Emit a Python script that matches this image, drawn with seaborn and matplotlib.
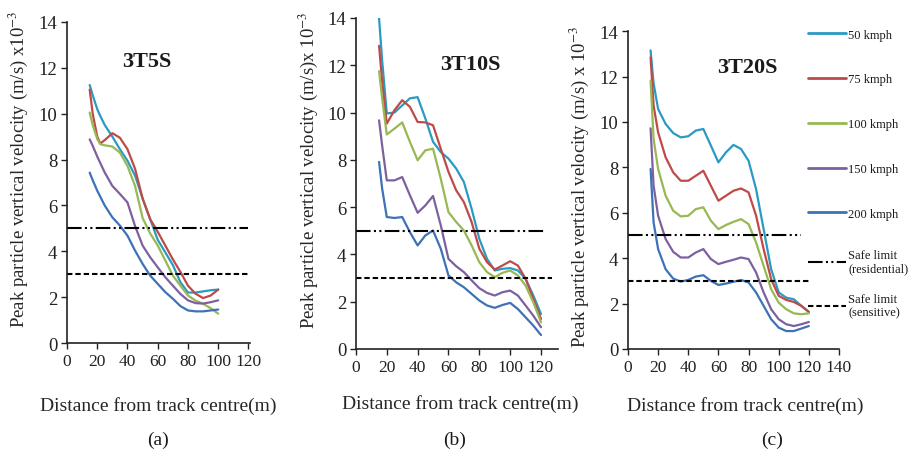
import matplotlib
matplotlib.use('Agg')
import matplotlib.pyplot as plt
from matplotlib.lines import Line2D
import seaborn as sns
import pandas as pd

# speeds and colours
speeds = ['50 kmph', '75 kmph', '100 kmph', '150 kmph', '200 kmph']
colors = ['#2b9ac2', '#be4b48', '#97b853', '#7d60a0', '#3e72b7']

# panel (a) 3T5S
dist_a = [15, 17, 20, 22, 25, 30, 35, 40, 45, 50, 55, 60, 65, 70, 75, 80, 85, 90, 95, 100]
a_50 = [11.25, 10.8, 10.2, 9.9, 9.5, 9.0, 8.45, 7.95, 7.3, 6.3, 5.4, 4.5, 3.95, 3.4, 2.65, 2.2, 2.2, 2.25, 2.3, 2.33]
a_75 = [11.05, 10.0, 9.0, 8.7, 8.85, 9.15, 8.95, 8.45, 7.6, 6.3, 5.4, 4.85, 4.25, 3.65, 3.1, 2.5, 2.15, 1.96, 2.07, 2.33]
a_100 = [10.05, 9.5, 8.9, 8.67, 8.62, 8.57, 8.3, 7.72, 6.85, 5.45, 4.78, 4.25, 3.6, 2.94, 2.5, 2.07, 1.85, 1.71, 1.52, 1.28]
a_150 = [8.88, 8.6, 8.13, 7.85, 7.43, 6.85, 6.5, 6.13, 5.1, 4.25, 3.74, 3.3, 2.87, 2.5, 2.14, 1.86, 1.74, 1.72, 1.78, 1.86]
a_200 = [7.43, 7.1, 6.64, 6.38, 5.99, 5.48, 5.12, 4.68, 4.03, 3.45, 2.94, 2.58, 2.22, 1.93, 1.61, 1.42, 1.38, 1.38, 1.42, 1.46]

# panel (b) 3T10S
dist_b = [15, 17, 20, 25, 30, 35, 40, 45, 50, 55, 60, 65, 70, 75, 80, 85, 90, 95, 100, 105, 110, 115, 120]
b_50 = [13.98, 12.2, 9.96, 10.0, 10.3, 10.6, 10.65, 9.75, 8.76, 8.33, 8.05, 7.63, 7.06, 5.93, 4.66, 3.81, 3.32, 3.39, 3.42, 3.32, 2.97, 2.26, 1.48]
b_75 = [12.82, 11.3, 9.53, 10.1, 10.52, 10.24, 9.6, 9.58, 9.46, 8.47, 7.49, 6.71, 6.21, 5.37, 4.24, 3.67, 3.36, 3.53, 3.71, 3.53, 2.97, 2.12, 1.27]
b_100 = [11.75, 10.6, 9.07, 9.32, 9.58, 8.76, 7.98, 8.4, 8.47, 7.2, 5.79, 5.37, 5.01, 4.38, 3.67, 3.25, 3.04, 3.22, 3.32, 3.11, 2.68, 1.98, 1.13]
b_150 = [9.67, 8.6, 7.13, 7.13, 7.27, 6.5, 5.76, 6.07, 6.47, 5.23, 3.81, 3.5, 3.25, 2.9, 2.57, 2.37, 2.26, 2.4, 2.47, 2.26, 1.84, 1.41, 0.92]
b_200 = [7.91, 6.78, 5.58, 5.54, 5.58, 4.94, 4.38, 4.8, 5.01, 4.24, 3.11, 2.82, 2.61, 2.33, 2.05, 1.84, 1.74, 1.86, 1.95, 1.69, 1.34, 0.99, 0.59]

# panel (c) 3T20S
dist_c = [15, 17, 20, 25, 30, 35, 40, 45, 50, 55, 60, 65, 70, 75, 80, 85, 90, 95, 100, 105, 110, 115, 120]
c_50 = [13.15, 11.7, 10.57, 9.91, 9.51, 9.32, 9.37, 9.62, 9.69, 8.96, 8.22, 8.66, 8.99, 8.81, 8.29, 7.04, 5.28, 3.51, 2.49, 2.26, 2.19, 1.9, 1.63]
c_75 = [12.85, 10.72, 9.54, 8.44, 7.78, 7.41, 7.41, 7.63, 7.85, 7.19, 6.53, 6.75, 6.97, 7.07, 6.9, 5.87, 4.4, 3.07, 2.34, 2.16, 2.07, 1.9, 1.63]
c_100 = [11.82, 9.25, 7.93, 6.75, 6.09, 5.84, 5.87, 6.16, 6.24, 5.65, 5.28, 5.46, 5.6, 5.72, 5.5, 4.69, 3.66, 2.63, 2.04, 1.75, 1.57, 1.53, 1.57]
c_150 = [9.72, 7.19, 5.87, 4.84, 4.28, 4.03, 4.03, 4.25, 4.4, 3.96, 3.74, 3.84, 3.93, 4.03, 3.96, 3.37, 2.49, 1.75, 1.31, 1.09, 1.01, 1.09, 1.19]
c_200 = [7.93, 5.57, 4.4, 3.51, 3.1, 2.97, 3.04, 3.19, 3.25, 3.0, 2.82, 2.88, 2.96, 3.04, 2.93, 2.49, 1.9, 1.31, 0.94, 0.79, 0.79, 0.9, 1.01]

# safe limits (x10^-3 m/s) and how far the lines run in each panel
limit_res = 5
limit_sens = 3
res_end = [120, 122, 115]
sens_end = [120, 127, 120]

titles = ['3T5S', '3T10S', '3T20S']
letters = ['(a)', '(b)', '(c)']
ylabels = ['Peak particle vertical velocity (m/s) x10$^{-3}$',
           'Peak particle vertical velocity (m/s)x 10$^{-3}$',
           'Peak particle vertical velocity (m/s) x 10$^{-3}$']

sns.set_style('white')
plt.rcParams['font.family'] = ['Liberation Serif', 'DejaVu Serif']
plt.rcParams['mathtext.fontset'] = 'stix'
plt.rcParams['text.color'] = '#1a1a1a'

dash_dot = (0, (7, 1.6, 1, 1.6, 1, 1.6))
dashed = (0, (2.6, 1.4))


def make_frame(dist, series):
    parts = []
    for name, vals in zip(speeds, series):
        parts.append(pd.DataFrame({'dist': dist, 'ppv': vals, 'speed': name}))
    return pd.concat(parts, ignore_index=True)


fig = plt.figure(figsize=(9.08, 4.56), dpi=100)
positions = [[0.0738, 0.2456, 0.2015, 0.704],
             [0.392, 0.2325, 0.2225, 0.726],
             [0.6916, 0.2325, 0.2324, 0.697]]
panels = [(dist_a, [a_50, a_75, a_100, a_150, a_200], 121, range(0, 121, 20)),
          (dist_b, [b_50, b_75, b_100, b_150, b_200], 131, range(0, 121, 20)),
          (dist_c, [c_50, c_75, c_100, c_150, c_200], 140, range(0, 141, 20))]
title_pos = [(0.437, 0.878), (0.564, 0.862), (0.564, 0.887)]
ylab_pos = [(-0.2, 0.545), (-0.178, 0.544), (-0.176, 0.513)]
xlab_pos = [(0.5, -0.165), (0.515, -0.137), (0.555, -0.149)]
letter_x = [158, 455, 772]

for i, (dist, series, xmax, xticks) in enumerate(panels):
    ax = fig.add_axes(positions[i])
    df = make_frame(dist, series)
    sns.lineplot(data=df, x='dist', y='ppv', hue='speed', hue_order=speeds,
                 palette=colors, lw=1.6, errorbar=None, legend=False, ax=ax)
    ax.hlines(limit_res, 0, res_end[i], colors='black', lw=1.5, linestyles=dash_dot)
    ax.hlines(limit_sens, 0, sens_end[i], colors='black', lw=1.5, linestyles=dashed)
    ax.set_xlim(0, xmax)
    ax.set_ylim(0, 14)
    ax.set_xticks(list(xticks))
    ax.set_yticks(range(0, 15, 2))
    for side in ['top', 'right']:
        ax.spines[side].set_visible(False)
    for side in ['left', 'bottom']:
        ax.spines[side].set_color('#222222')
        ax.spines[side].set_linewidth(1.2)
    ax.tick_params(direction='out', length=4, width=1, colors='#222222',
                   left=True, bottom=True, pad=3)
    ax.tick_params(axis='x', labelsize=12.5)
    ax.tick_params(axis='y', labelsize=13.5)
    ax.set_ylabel(ylabels[i], fontsize=13.5)
    ax.set_xlabel('Distance from track centre(m)', fontsize=14)
    ax.yaxis.set_label_coords(*ylab_pos[i])
    ax.xaxis.set_label_coords(*xlab_pos[i])
    ax.text(title_pos[i][0], title_pos[i][1], titles[i], transform=ax.transAxes,
            ha='center', va='center', fontsize=16, fontweight='bold')
    fig.text(letter_x[i] / 908, 1 - 440 / 456, letters[i], ha='center',
             va='center', fontsize=14)

speed_handles = [Line2D([], [], color=c, lw=2) for c in colors]
fig.legend(speed_handles, speeds, loc='upper left', bbox_to_anchor=(0.89, 0.935),
           frameon=False, fontsize=9, handlelength=3.0, handletextpad=0.2,
           labelspacing=2.62, borderpad=0, borderaxespad=0)

limit_handles = [Line2D([], [], color='black', lw=1.5, ls=dash_dot),
                 Line2D([], [], color='black', lw=1.5, ls=dashed)]
limit_labels = ['Safe limit\n(residential)', 'Safe limit\n(sensitive)']
fig.legend(limit_handles, limit_labels, loc='upper left', bbox_to_anchor=(0.89, 0.452),
           frameon=False, fontsize=9, handlelength=3.0, handletextpad=0.2,
           labelspacing=1.45, borderpad=0, borderaxespad=0)

fig.savefig('out.png', dpi=100)
